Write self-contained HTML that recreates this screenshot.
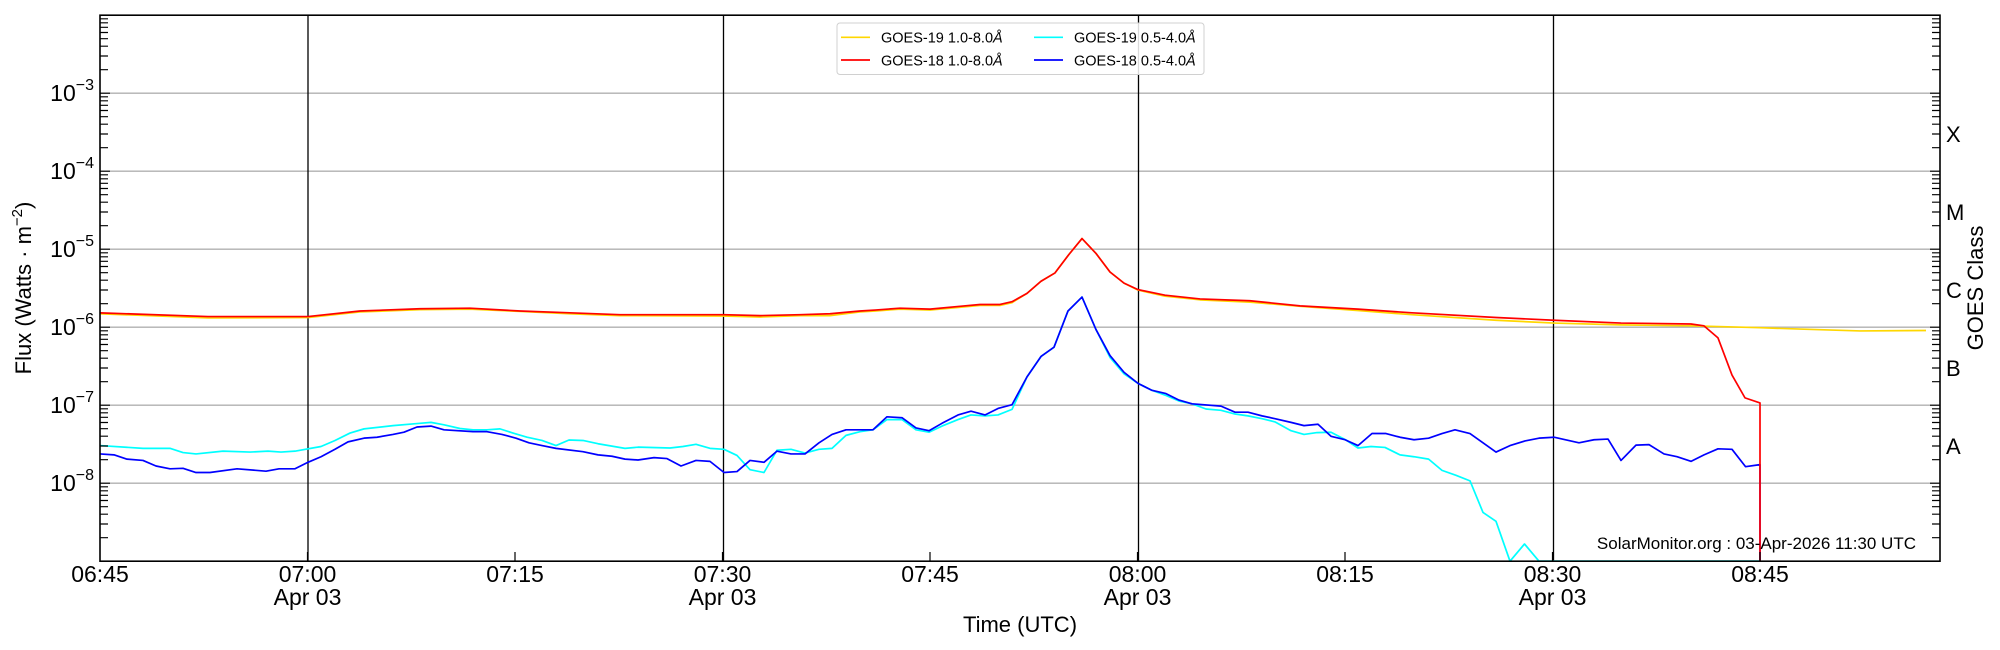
<!DOCTYPE html>
<html><head><meta charset="utf-8"><style>
html,body{margin:0;padding:0;background:#fff;}
svg{display:block;font-family:"Liberation Sans","DejaVu Sans",sans-serif;}
</style></head><body>
<svg width="2000" height="650" viewBox="0 0 2000 650" xmlns="http://www.w3.org/2000/svg">
<defs>
<g id="decL" stroke="#000" stroke-width="1.2">
<path d="M100 -23.5h8M100 -37.2h8M100 -47h8M100 -54.5h8M100 -60.7h8M100 -65.9h8M100 -70.4h8M100 -74.4h8M100 0h10"/>
</g>
<g id="decR" stroke="#000" stroke-width="1.2">
<path d="M1940 -23.5h-8M1940 -37.2h-8M1940 -47h-8M1940 -54.5h-8M1940 -60.7h-8M1940 -65.9h-8M1940 -70.4h-8M1940 -74.4h-8M1940 0h-10"/>
</g>
<clipPath id="cp"><rect x="100" y="15" width="1840" height="547"/></clipPath>
</defs>
<g stroke="#b0b0b0" stroke-width="1.3">
<path d="M100 93.2H1940M100 171.2H1940M100 249.2H1940M100 327.2H1940M100 405.2H1940M100 483.2H1940"/>
</g>
<g stroke="#000" stroke-width="1.3">
<path d="M308 15V561M723.5 15V561M1138.5 15V561M1553.5 15V561"/>
</g>
<g clip-path="url(#cp)" fill="none" stroke-width="1.7" stroke-linejoin="round">
<g transform="scale(1,0.9283)">
<polyline vector-effect="non-scaling-stroke" stroke="#00ffff" points="100,480 143,483 170,483 183,487.5 196,489 223,486 250,487 268,486 281,487 295,486 321,481 335,474.5 350,466.5 364,462 393,458.5 420,456 431,455 444,457.6 460,461.6 473,463 487,463 500,462 513,466.5 527,471 542,474.5 556,480 569,474 583,474.5 598,478 625,483 638,481.7 670,482.6 683,481 696,478.6 710,483 724,484 737,490.6 750,506 764,509 777,485 791,484 805,488 819,484 832,483 846,469 860,465 873,463 887,452 902,452 916,463 929,465.6 942,459 958,452 971,447 985,448 998,447 1012,441 1027,406 1041,384 1054,374 1068,335 1082,320 1096,355 1110,385 1124,402.7 1138,413 1152,420.5 1166,426 1179,432 1192,435 1206,440.6 1221,442 1235,446 1248,448 1262,451 1275,454.5 1291,464 1304,468 1317,466 1331,465.6 1346,474 1358,482.6 1371,481 1385,482 1400,490 1414,492 1428.6,494.6 1442,506.7 1456,512 1470,518 1483,552 1496,561.6 1510,604.5 1524.5,586 1539,604.5 1760,604.5"/>
<polyline vector-effect="non-scaling-stroke" stroke="#0000ff" points="100,489 114,490 127,494.6 143,496 156,502 170,505 183,504.5 196,509 210,509 237,505 266,507.6 279,505 295,505 308,498 321,492 335,484 348,476 364,472 377,471 393,468 404,465.6 417,460 431,459 444,463 473,465 487,465 502,468 516,472 529,477 542,480 556,483 583,486.6 598,490 612,491.5 625,494.6 638,495.5 654,493 667,494 681,502 696,496 710,497 724,509 737,508 750,496 764,498 777,486 791,489 805,489 819,477 832,468 846,463 873,463 887,449 902,450 916,461 929,464 942,456 958,447 971,443 985,447 998,440 1012,436 1027,406 1041,384 1054,374 1068,335 1082,320 1096,355 1110,383 1124,401 1138,413 1152,420.5 1166,424 1179,431 1192,435 1221,437.5 1235,444 1248,444 1262,448 1275,451 1291,455 1304,458.5 1318,457 1331,470 1345,473.7 1358,480 1372,467 1386,467 1400,471 1414,473.7 1428.6,472 1442,467 1455,463 1470,467 1483,477 1496,487 1510,480 1525,475 1539,472 1554,471 1579,477 1594,473.7 1608,473 1621,496 1636,479.5 1649,479 1664,489 1677,492 1691,497 1704,490 1718,483.5 1732,484 1745.5,502.7 1760,500.5 1760,610"/>
<polyline vector-effect="non-scaling-stroke" stroke="#ffd700" points="100,338 208,342.5 308,342 360,336 420,333.6 470,333 520,335.5 570,338 620,340 724,340.5 760,341.5 800,340 830,340 860,336 875,335 900,333 930,334 960,331 980,329 1000,329 1012,326 1027,316 1041,303 1055,294 1069,274 1082,257 1096,273 1110,293 1124,305 1138,312.5 1165,319 1200,323 1250,325.5 1300,330 1358,334.5 1412,339 1496,345 1554,348 1621,350 1691,351 1760,353 1800,354.5 1860,356.5 1926,356"/>
<polyline vector-effect="non-scaling-stroke" stroke="#ff0000" points="100,337 208,341 308,341 360,335 420,332.6 470,332 520,335 570,337 620,339 724,339 760,340 800,339 830,338 860,335 875,334 900,332 930,333 960,330 980,328 1000,328 1012,325 1027,316 1041,303 1055,294 1069,274 1082,257 1096,273 1110,293 1124,305 1138,312 1165,318 1200,322 1250,324 1300,329.5 1358,333 1412,337 1496,342 1554,345 1621,348 1691,349 1704,351 1718,364 1732,404 1745,428.6 1760,434 1760,610"/>
</g>
</g>
<rect x="100" y="15.2" width="1840" height="546" fill="none" stroke="#000" stroke-width="1.6"/>
<use href="#decL" y="561.2"/><use href="#decL" y="483.2"/><use href="#decL" y="405.2"/><use href="#decL" y="327.2"/><use href="#decL" y="249.2"/><use href="#decL" y="171.2"/><use href="#decL" y="93.2"/><use href="#decL" y="15.2"/>
<use href="#decR" y="561.2"/><use href="#decR" y="483.2"/><use href="#decR" y="405.2"/><use href="#decR" y="327.2"/><use href="#decR" y="249.2"/><use href="#decR" y="171.2"/><use href="#decR" y="93.2"/><use href="#decR" y="15.2"/>
<g stroke="#000" stroke-width="1.2">
<path d="M307.5 561v-9M515 561v-9M722.5 561v-9M930 561v-9M1137.5 561v-9M1345 561v-9M1552.5 561v-9M1760 561v-9"/>
</g>
<g font-size="23" fill="#000" text-anchor="end">
<text x="94" y="101">10<tspan font-size="16" dy="-11">−3</tspan></text>
<text x="94" y="179">10<tspan font-size="16" dy="-11">−4</tspan></text>
<text x="94" y="257">10<tspan font-size="16" dy="-11">−5</tspan></text>
<text x="94" y="335">10<tspan font-size="16" dy="-11">−6</tspan></text>
<text x="94" y="413">10<tspan font-size="16" dy="-11">−7</tspan></text>
<text x="94" y="491">10<tspan font-size="16" dy="-11">−8</tspan></text>
</g>
<g font-size="22" fill="#000">
<text x="1946" y="142">X</text>
<text x="1946" y="220">M</text>
<text x="1946" y="298">C</text>
<text x="1946" y="376">B</text>
<text x="1946" y="454">A</text>
</g>
<text transform="translate(31,288) rotate(-90)" font-size="22" text-anchor="middle">Flux (Watts · m<tspan font-size="15" dy="-9">−2</tspan><tspan dy="9">)</tspan></text>
<text transform="translate(1983,288) rotate(-90)" font-size="22" text-anchor="middle">GOES Class</text>
<g font-size="23" text-anchor="middle" fill="#000">
<text x="100" y="582">06:45</text>
<text x="307.5" y="582">07:00</text><text x="307.5" y="605">Apr 03</text>
<text x="515" y="582">07:15</text>
<text x="722.5" y="582">07:30</text><text x="722.5" y="605">Apr 03</text>
<text x="930" y="582">07:45</text>
<text x="1137.5" y="582">08:00</text><text x="1137.5" y="605">Apr 03</text>
<text x="1345" y="582">08:15</text>
<text x="1552.5" y="582">08:30</text><text x="1552.5" y="605">Apr 03</text>
<text x="1760" y="582">08:45</text>
<text x="1020" y="632" font-size="22">Time (UTC)</text>
</g>
<text x="1916" y="549" font-size="17" text-anchor="end">SolarMonitor.org : 03-Apr-2026 11:30 UTC</text>
<rect x="837" y="23" width="367" height="51.5" rx="3" fill="#fff" fill-opacity="0.85" stroke="#d0d0d0" stroke-width="1"/>
<g stroke-width="1.7">
<line x1="841" y1="37.3" x2="870" y2="37.3" stroke="#ffd700"/>
<line x1="841" y1="60" x2="870" y2="60" stroke="#ff0000"/>
<line x1="1034" y1="37.3" x2="1063" y2="37.3" stroke="#00ffff"/>
<line x1="1034" y1="60" x2="1063" y2="60" stroke="#0000ff"/>
</g>
<g font-size="14.5" fill="#000">
<text x="881" y="42.5">GOES-19 1.0-8.0<tspan font-style="italic">Å</tspan></text>
<text x="881" y="65.5">GOES-18 1.0-8.0<tspan font-style="italic">Å</tspan></text>
<text x="1074" y="42.5">GOES-19 0.5-4.0<tspan font-style="italic">Å</tspan></text>
<text x="1074" y="65.5">GOES-18 0.5-4.0<tspan font-style="italic">Å</tspan></text>
</g>
</svg>
</body></html>
